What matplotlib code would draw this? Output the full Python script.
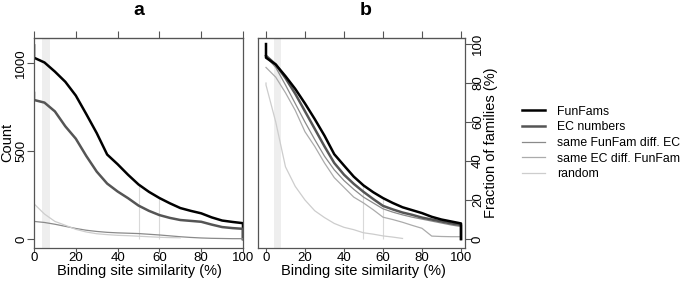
import numpy as np
import matplotlib
matplotlib.use("Agg")
import matplotlib.pyplot as plt

plt.rcParams['font.family'] = ['Liberation Sans', 'DejaVu Sans']

# binding site similarity grid (0 and 100 repeated for the start spike / end drop)
sim = [0, 0, 5, 10, 15, 20, 25, 30, 35, 40, 45, 50, 55, 60, 65, 70, 75, 80, 85, 90, 95, 100, 100]

# panel a: counts
a_funfams = [1100, 1030, 1003, 951, 893, 815, 710, 602, 480, 425, 365, 310, 268, 233, 203, 176,
             160, 146, 123, 105, 97, 90, 0]
a_ec = [830, 790, 775, 725, 640, 570, 472, 383, 315, 270, 232, 190, 160, 136, 120, 108,
        103, 98, 82, 68, 62, 58, 0]
a_same_ff = [100, 100, 94, 84, 72, 60, 50, 43, 38, 35, 33, 31, 27, 23, 18, 13,
             9, 6, 4, 3, 2, 2, 0]
a_random = [205, 200, 142, 100, 78, 55, 40, 30, 25, 21, 19, 16, 13, 10, 8, 7,
            np.nan, np.nan, np.nan, np.nan, np.nan, np.nan, np.nan]

# panel b: fraction of families (%)
b_funfams = [100, 93, 89.5, 83.5, 77, 69.5, 61.5, 53, 43.5, 37.7, 32, 27.5, 24, 21, 18.5, 16.3,
             14.8, 13.3, 11.4, 10, 9, 8, 0]
b_ec = [94, 94, 89.5, 82.5, 74.5, 65.5, 56.5, 47.5, 39, 33, 28.3, 24.2, 20.5, 17, 15.2, 13.6,
        12.4, 11, 10, 9, 8, 7.2, 0]
b_same_ff = [94, 93.5, 88, 79, 69.5, 60, 51, 42.5, 35.5, 30, 25.5, 21.5, 18.5, 15.5, 13.8, 12.4,
             11.2, 10.2, 9.2, 8.2, 7.2, 6.4, 0]
b_same_ec = [88, 88, 83, 75, 66, 55, 47.5, 39, 31.5, 26.5, 21.5, 18.5, 15, 11.2, 10, 8.6,
             7, 5.5, 1.5, 1.3, 1.2, 1.2, 0]
b_random = [80, 79, 60, 37, 27, 20, 14.5, 11, 8, 6, 4.8, 3.2, 2.5, 1.6, 1, 0.3,
            np.nan, np.nan, np.nan, np.nan, np.nan, np.nan, np.nan]

marks = [50, 60]
labels = ["FunFams", "EC numbers", "same FunFam diff. EC", "same EC diff. FunFam", "random"]
colors = ["#000000", "#555555", "#8a8a8a", "#ababab", "#cdcdcd"]
widths = [1.8, 1.8, 0.9, 0.9, 0.9]

fs = 10.5
tfs = 9.5
spine_c = "#555555"
W, H = 685, 281

fig = plt.figure(figsize=(6.85, 2.81), dpi=100)
ax_a = fig.add_axes([34/W, 33/H, 209/W, 210/H])
ax_b = fig.add_axes([258/W, 33/H, 207/W, 210/H])


def style(ax, cx):
    for s in ax.spines.values():
        s.set_color(spine_c)
        s.set_linewidth(0.9)
    ax.axvspan(4, 7.5, color="#eeeeee", lw=0, zorder=0)
    ax.set_xticks([0, 20, 40, 60, 80, 100])
    ax.tick_params(axis='x', length=3, pad=0, color=spine_c, labelsize=tfs)
    ax.tick_params(axis='y', length=5, pad=0, color=spine_c, labelsize=tfs)
    top = ax.secondary_xaxis('top')
    top.set_xticks([0, 20, 40, 60, 80, 100])
    top.tick_params(length=5, labeltop=False, color=spine_c)
    top.spines['top'].set_color(spine_c)
    fig.text(cx/W, 1 - 271/H, "Binding site similarity (%)", ha='center', va='center', fontsize=fs)


# panel a
style(ax_a, 139)
ax_a.vlines(marks, 0, np.interp(marks, sim, a_funfams), color="#d9d9d9", lw=0.8, zorder=1)
for ys, c, w in zip([a_funfams, a_ec, a_same_ff, a_random],
                    [colors[0], colors[1], colors[2], colors[4]],
                    [widths[0], widths[1], widths[2], widths[4]]):
    ax_a.plot(sim, ys, color=c, lw=w, zorder=2)
ax_a.set_xlim(0, 100)
ax_a.set_ylim(-51, 1142)
ax_a.set_yticks([0, 500, 1000])
plt.setp(ax_a.get_yticklabels(), rotation=90, va='center')
fig.text(7/W, 1 - 142/H, "Count", rotation=90, ha='center', va='center', fontsize=fs)

# panel b
style(ax_b, 363)
ax_b.vlines(marks, 0, np.interp(marks, sim, b_funfams), color="#d9d9d9", lw=0.8, zorder=1)
series_b = [b_funfams, b_ec, b_same_ff, b_same_ec, b_random]
handles = []
for ys, lab, c, w in list(zip(series_b, labels, colors, widths))[::-1]:
    h, = ax_b.plot(sim, ys, color=c, lw=w, label=lab, zorder=2)
    handles.insert(0, h)
ax_b.set_xlim(-4.1, 102.05)
ax_b.set_ylim(-4.6, 103.1)
ax_b.yaxis.tick_right()
ax_b.set_yticks([0, 20, 40, 60, 80, 100])
plt.setp(ax_b.get_yticklabels(), rotation=90, va='center')
fig.text(491/W, 1 - 143/H, "Fraction of families (%)", rotation=90, ha='center', va='center',
         fontsize=fs)

fig.text(138.5/W, 1 - 15/H, "a", ha='center', va='baseline', fontsize=14, fontweight='bold')
fig.text(366/W, 1 - 15/H, "b", ha='center', va='baseline', fontsize=14, fontweight='bold')

fig.legend(handles, labels, loc='center left', bbox_to_anchor=(522/W, 1 - 143/H),
           frameon=False, fontsize=8.8, handlelength=1.9, handletextpad=0.95,
           labelspacing=0.3, borderpad=0, borderaxespad=0)

fig.savefig("out.png", dpi=100)
